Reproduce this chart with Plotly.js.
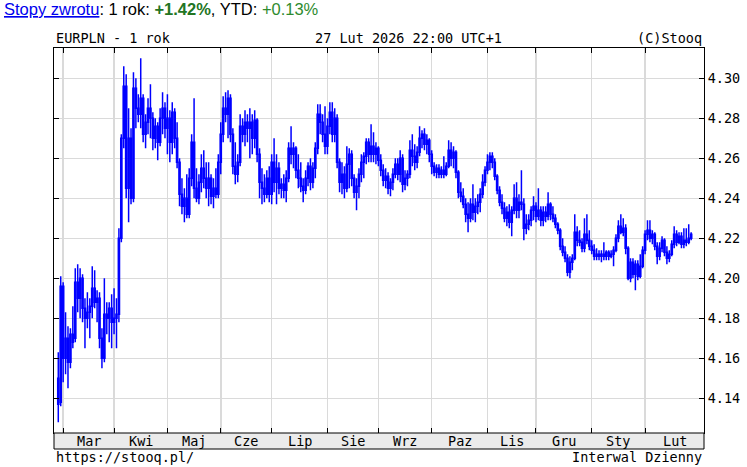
<!DOCTYPE html>
<html>
<head>
<meta charset="utf-8">
<script src="https://cdn.plot.ly/plotly-3.0.1.min.js"></script>
<style>
html,body{margin:0;padding:0;background:#fff;}
#chart{width:747px;height:467px;}
</style>
</head>
<body>
<div id="chart"></div>
<script>
// EURPLN daily OHLC, 27 Feb 2025 - 27 Feb 2026 (weekdays)
const firstDay = '2025-02-27';
const monthNames = ['Lut','Mar','Kwi','Maj','Cze','Lip','Sie','Wrz','Paz','Lis','Gru','Sty','Lut'];
const yTicks = [4.14,4.16,4.18,4.20,4.22,4.24,4.26,4.28,4.30];

const openP = [
4.150,4.138,4.196,4.160,4.170,4.158,4.172,4.170,4.198,4.190,4.200,4.185,4.180,4.183,4.186,4.195,4.188,4.190,4.170,4.160,
4.182,4.180,4.185,4.178,4.180,4.182,4.220,4.270,4.296,4.245,4.270,4.240,4.295,4.285,4.282,4.290,4.272,4.278,4.285,4.280,
4.270,4.276,4.268,4.280,4.285,4.275,4.280,4.268,4.283,4.270,4.258,4.242,4.236,4.240,4.232,4.250,4.268,4.245,4.240,4.248,
4.255,4.250,4.245,4.250,4.241,4.245,4.242,4.258,4.272,4.285,4.282,4.290,4.272,4.256,4.252,4.258,4.276,4.272,4.278,4.275,
4.278,4.270,4.279,4.262,4.248,4.245,4.242,4.250,4.242,4.258,4.248,4.255,4.245,4.247,4.244,4.250,4.265,4.262,4.265,4.254,
4.250,4.246,4.244,4.250,4.256,4.248,4.255,4.265,4.282,4.278,4.272,4.266,4.276,4.283,4.272,4.280,4.258,4.248,4.252,4.245,
4.257,4.262,4.250,4.243,4.246,4.252,4.258,4.261,4.268,4.262,4.266,4.262,4.265,4.259,4.254,4.249,4.251,4.245,4.248,4.252,
4.257,4.252,4.260,4.247,4.250,4.252,4.264,4.261,4.258,4.263,4.270,4.272,4.267,4.269,4.262,4.256,4.253,4.255,4.252,4.254,
4.252,4.256,4.264,4.260,4.263,4.253,4.243,4.241,4.237,4.232,4.230,4.237,4.233,4.236,4.238,4.242,4.248,4.254,4.258,4.261,
4.258,4.251,4.244,4.238,4.235,4.230,4.233,4.228,4.234,4.240,4.234,4.238,4.237,4.225,4.227,4.229,4.234,4.236,4.231,4.234,
4.229,4.233,4.231,4.237,4.232,4.230,4.227,4.224,4.216,4.213,4.210,4.203,4.208,4.210,4.223,4.219,4.218,4.215,4.222,4.219,
4.216,4.214,4.211,4.212,4.211,4.212,4.211,4.213,4.211,4.212,4.214,4.220,4.226,4.223,4.225,4.215,4.200,4.208,4.202,4.207,
4.201,4.206,4.214,4.222,4.224,4.220,4.222,4.216,4.211,4.215,4.219,4.213,4.210,4.212,4.217,4.222,4.218,4.221,4.217,4.219,
4.218,4.220];
const highP = [
4.163,4.201,4.198,4.183,4.176,4.175,4.186,4.205,4.207,4.205,4.202,4.190,4.193,4.190,4.206,4.204,4.194,4.193,4.175,4.200,
4.188,4.188,4.192,4.195,4.190,4.225,4.272,4.306,4.302,4.285,4.275,4.303,4.300,4.292,4.310,4.292,4.282,4.290,4.297,4.283,
4.280,4.278,4.285,4.293,4.288,4.292,4.284,4.288,4.285,4.278,4.260,4.250,4.245,4.252,4.255,4.272,4.290,4.255,4.252,4.262,
4.264,4.258,4.258,4.252,4.250,4.255,4.262,4.278,4.291,4.293,4.294,4.292,4.275,4.268,4.262,4.282,4.280,4.284,4.282,4.285,
4.282,4.284,4.280,4.265,4.255,4.252,4.254,4.256,4.262,4.270,4.262,4.258,4.250,4.252,4.254,4.268,4.276,4.268,4.266,4.262,
4.258,4.250,4.254,4.258,4.260,4.258,4.268,4.287,4.287,4.282,4.286,4.280,4.288,4.288,4.285,4.282,4.260,4.258,4.256,4.266,
4.265,4.264,4.252,4.250,4.255,4.262,4.263,4.270,4.270,4.277,4.273,4.268,4.266,4.262,4.257,4.255,4.253,4.250,4.255,4.260,
4.260,4.264,4.262,4.254,4.254,4.269,4.272,4.267,4.266,4.276,4.274,4.275,4.272,4.270,4.264,4.258,4.257,4.257,4.256,4.261,
4.258,4.269,4.268,4.266,4.264,4.254,4.248,4.245,4.240,4.238,4.240,4.247,4.240,4.242,4.245,4.252,4.256,4.262,4.263,4.263,
4.260,4.252,4.246,4.242,4.238,4.236,4.237,4.236,4.247,4.248,4.242,4.254,4.240,4.232,4.232,4.236,4.241,4.238,4.245,4.236,
4.236,4.236,4.243,4.238,4.236,4.232,4.228,4.225,4.220,4.216,4.212,4.211,4.212,4.232,4.226,4.224,4.220,4.230,4.232,4.224,
4.219,4.217,4.215,4.214,4.214,4.218,4.214,4.214,4.214,4.216,4.222,4.229,4.232,4.230,4.227,4.216,4.210,4.210,4.209,4.209,
4.212,4.216,4.224,4.229,4.229,4.224,4.223,4.218,4.218,4.221,4.220,4.216,4.214,4.219,4.226,4.224,4.223,4.223,4.225,4.225,
4.227,4.223];
const lowP = [
4.128,4.136,4.148,4.152,4.145,4.155,4.165,4.168,4.183,4.180,4.178,4.165,4.175,4.170,4.180,4.185,4.178,4.165,4.155,4.158,
4.172,4.168,4.165,4.172,4.165,4.178,4.218,4.265,4.240,4.228,4.237,4.238,4.275,4.278,4.275,4.268,4.265,4.272,4.270,4.264,
4.265,4.259,4.266,4.272,4.270,4.262,4.258,4.262,4.265,4.255,4.236,4.232,4.228,4.230,4.230,4.246,4.240,4.238,4.237,4.243,
4.245,4.240,4.236,4.237,4.235,4.240,4.240,4.252,4.268,4.278,4.270,4.268,4.252,4.247,4.248,4.256,4.268,4.266,4.268,4.260,
4.262,4.265,4.258,4.240,4.237,4.238,4.240,4.238,4.237,4.243,4.237,4.242,4.240,4.240,4.238,4.248,4.257,4.255,4.250,4.245,
4.243,4.238,4.242,4.246,4.244,4.245,4.250,4.262,4.272,4.268,4.262,4.262,4.272,4.268,4.268,4.255,4.243,4.242,4.240,4.243,
4.245,4.246,4.240,4.234,4.240,4.248,4.250,4.257,4.258,4.258,4.258,4.257,4.256,4.251,4.246,4.245,4.242,4.241,4.244,4.250,
4.249,4.248,4.243,4.244,4.246,4.250,4.256,4.254,4.255,4.261,4.265,4.264,4.262,4.258,4.252,4.251,4.250,4.250,4.250,4.250,
4.251,4.255,4.256,4.255,4.250,4.240,4.238,4.235,4.228,4.223,4.228,4.229,4.228,4.232,4.233,4.240,4.246,4.252,4.254,4.255,
4.249,4.242,4.236,4.232,4.228,4.226,4.225,4.221,4.232,4.230,4.230,4.234,4.219,4.222,4.224,4.226,4.229,4.228,4.229,4.226,
4.226,4.228,4.229,4.229,4.228,4.225,4.222,4.214,4.211,4.208,4.201,4.200,4.204,4.209,4.216,4.216,4.213,4.213,4.217,4.214,
4.212,4.209,4.209,4.209,4.208,4.209,4.209,4.209,4.210,4.206,4.213,4.218,4.222,4.221,4.212,4.199,4.198,4.200,4.194,4.199,
4.200,4.205,4.212,4.219,4.218,4.217,4.214,4.207,4.209,4.213,4.211,4.207,4.208,4.211,4.215,4.216,4.217,4.215,4.215,4.216,
4.217,4.219];
const closeP = [
4.137,4.196,4.160,4.170,4.158,4.172,4.168,4.198,4.190,4.200,4.185,4.180,4.183,4.186,4.195,4.188,4.190,4.170,4.160,4.182,
4.180,4.185,4.178,4.180,4.182,4.220,4.270,4.296,4.245,4.270,4.240,4.295,4.285,4.282,4.290,4.272,4.278,4.285,4.280,4.270,
4.276,4.268,4.280,4.285,4.275,4.280,4.268,4.283,4.270,4.258,4.242,4.236,4.240,4.232,4.250,4.268,4.245,4.240,4.248,4.255,
4.250,4.245,4.250,4.241,4.245,4.242,4.258,4.272,4.285,4.282,4.290,4.272,4.256,4.252,4.258,4.276,4.272,4.278,4.275,4.278,
4.270,4.279,4.262,4.248,4.245,4.242,4.250,4.242,4.258,4.248,4.255,4.245,4.247,4.244,4.250,4.265,4.262,4.265,4.254,4.250,
4.246,4.244,4.250,4.256,4.248,4.255,4.265,4.282,4.278,4.272,4.266,4.276,4.283,4.272,4.280,4.258,4.248,4.252,4.245,4.257,
4.262,4.250,4.243,4.246,4.252,4.258,4.261,4.268,4.262,4.266,4.262,4.265,4.259,4.254,4.249,4.251,4.245,4.248,4.252,4.257,
4.252,4.260,4.247,4.250,4.252,4.264,4.261,4.258,4.263,4.270,4.272,4.267,4.269,4.262,4.256,4.253,4.255,4.252,4.254,4.252,
4.256,4.264,4.260,4.263,4.253,4.243,4.241,4.237,4.232,4.230,4.237,4.233,4.236,4.238,4.242,4.248,4.254,4.258,4.261,4.258,
4.251,4.244,4.238,4.235,4.230,4.233,4.228,4.234,4.240,4.234,4.238,4.237,4.225,4.227,4.229,4.234,4.236,4.231,4.234,4.229,
4.233,4.231,4.237,4.232,4.230,4.227,4.224,4.216,4.213,4.210,4.203,4.208,4.210,4.223,4.219,4.218,4.215,4.222,4.219,4.216,
4.214,4.211,4.212,4.211,4.212,4.211,4.213,4.211,4.212,4.214,4.220,4.226,4.223,4.225,4.215,4.200,4.208,4.202,4.207,4.201,
4.206,4.214,4.222,4.224,4.220,4.222,4.216,4.211,4.215,4.219,4.213,4.210,4.212,4.217,4.222,4.218,4.221,4.217,4.219,4.218,
4.220,4.222];

// trading-day calendar (weekdays), one entry per candle
const dates = [];
{
  const d = new Date(firstDay + 'T00:00:00Z');
  while (dates.length < closeP.length) {
    const wd = d.getUTCDay();
    if (wd !== 0 && wd !== 6) dates.push(d.toISOString().slice(0, 10));
    d.setUTCDate(d.getUTCDate() + 1);
  }
}
const idx = dates.map((_, i) => i);

// month boundaries (first trading day of each month)
const monthStarts = [];
for (let i = 1; i < dates.length; i++) {
  if (dates[i].slice(5, 7) !== dates[i - 1].slice(5, 7)) monthStarts.push(i);
}
const xMin = -1.77, xMax = 266.3;

const W = 747, H = 467, ML = 54, MR = 43, MT = 48, MB = 34;
const plotH = H - MT - MB, plotW = W - ML - MR;
const py = (pix) => 1 - (pix - MT) / plotH;      // pixel row -> paper y
const px = (pix) => (pix - ML) / plotW;           // pixel col -> paper x

const mono = 'DejaVu Sans Mono, monospace';
const annotations = [];
// month labels centred between month gridlines
for (let k = 0; k < monthStarts.length; k++) {
  const a = monthStarts[k];
  const b = k + 1 < monthStarts.length ? monthStarts[k + 1] : xMax;
  annotations.push({
    xref: 'x', yref: 'paper', x: (a + b) / 2, y: py(441),
    text: monthNames[k + 1], showarrow: false, xanchor: 'center', yanchor: 'middle',
    font: {family: mono, size: 13.5, color: '#000'}
  });
}
annotations.push(
  {xref: 'paper', yref: 'paper', x: px(2), y: py(9), xanchor: 'left', yanchor: 'middle', showarrow: false,
   text: '<span style="color:#0000ee;text-decoration:underline">Stopy zwrotu</span>: 1 rok: <b><span style="color:#237523">+1.42%</span></b>, YTD: <span style="color:#2e8b2e">+0.13%</span>',
   font: {family: 'Liberation Sans, Arial, sans-serif', size: 16.5, color: '#000'}},
  {xref: 'paper', yref: 'paper', x: 0, y: py(38), xanchor: 'left', yanchor: 'middle', showarrow: false,
   text: 'EURPLN - 1 rok', font: {family: mono, size: 13.5, color: '#000'}},
  {xref: 'paper', yref: 'paper', x: px(313), y: py(38), xanchor: 'left', yanchor: 'middle', showarrow: false,
   text: '27 Lut 2026 22:00 UTC+1', font: {family: mono, size: 13.5, color: '#000'}},
  {xref: 'paper', yref: 'paper', x: 1, y: py(38), xanchor: 'right', yanchor: 'middle', showarrow: false,
   text: '(C)Stooq', font: {family: mono, size: 13.5, color: '#000'}},
  {xref: 'paper', yref: 'paper', x: 0, y: py(457), xanchor: 'left', yanchor: 'middle', showarrow: false,
   text: 'https://stooq.pl/', font: {family: mono, size: 13.5, color: '#000'}},
  {xref: 'paper', yref: 'paper', x: 1, y: py(457), xanchor: 'right', yanchor: 'middle', showarrow: false,
   text: 'Interwal Dzienny', font: {family: mono, size: 13.5, color: '#000'}}
);

const trace = {
  type: 'candlestick',
  x: idx, open: openP, high: highP, low: lowP, close: closeP,
  text: dates,
  increasing: {line: {color: '#0000ff', width: 1.5}, fillcolor: '#ffffff'},
  decreasing: {line: {color: '#0000ff', width: 1.5}, fillcolor: '#0000ff'},
  whiskerwidth: 0,
  hoverinfo: 'skip'
};

const layout = {
  width: W, height: H,
  margin: {l: ML, r: MR, t: MT, b: MB, pad: 0},
  paper_bgcolor: '#ffffff', plot_bgcolor: '#ffffff',
  showlegend: false,
  font: {family: mono, size: 13.5, color: '#000'},
  xaxis: {
    range: [xMin, xMax], tickmode: 'array', tickvals: monthStarts, showticklabels: false,
    ticks: 'inside', ticklen: 5, tickcolor: '#000', tickwidth: 1,
    showgrid: true, gridcolor: '#dadada', gridwidth: 1.5,
    showline: true, linecolor: '#000', linewidth: 1, mirror: 'ticks',
    zeroline: false, rangeslider: {visible: false}, fixedrange: true
  },
  yaxis: {
    side: 'right', range: [4.12265, 4.31515], tickmode: 'array', tickvals: yTicks,
    ticktext: yTicks.map(v => v.toFixed(2)),
    ticks: 'inside', ticklen: 5, tickcolor: '#000', tickwidth: 1,
    showgrid: true, gridcolor: '#dadada', gridwidth: 1.5,
    showline: true, linecolor: '#000', linewidth: 1, mirror: 'ticks',
    zeroline: false, fixedrange: true,
    tickfont: {family: mono, size: 13.5, color: '#000'}
  },
  shapes: [
    {type: 'rect', xref: 'paper', yref: 'paper', x0: 0, x1: 1, y0: py(449), y1: 0,
     fillcolor: '#ebebeb', line: {color: '#000', width: 1}, layer: 'above'}
  ],
  annotations: annotations
};

Plotly.newPlot('chart', [trace], layout, {displayModeBar: false, staticPlot: true});
</script>
</body>
</html>
